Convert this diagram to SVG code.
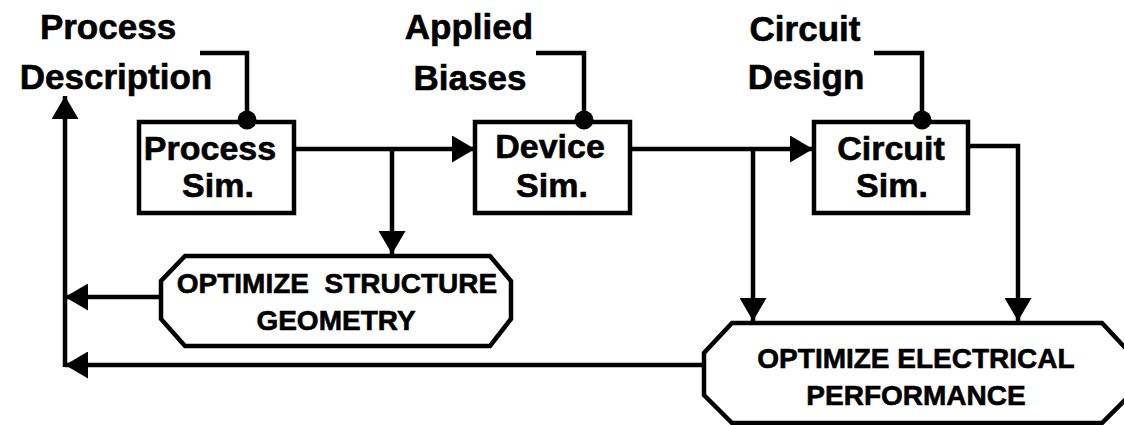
<svg xmlns="http://www.w3.org/2000/svg" width="1124" height="425" viewBox="0 0 1124 425">
  <defs>
    <marker id="arrow" markerUnits="userSpaceOnUse" markerWidth="24" markerHeight="27" refX="23" refY="13.5" orient="auto">
      <path d="M0,0 L23,13.5 L0,27 Z" fill="#000"/>
    </marker>
  </defs>
  <style>
    text { font-family: "Liberation Sans", Arial, sans-serif; font-weight: bold; fill: #000; stroke: #000; stroke-width: 0.6; text-anchor: middle; }
    .head { font-size: 35px; }
    .lbl { font-size: 34px; }
    .opt { font-size: 28px; }
    .box { fill: #fff; stroke: #000; stroke-width: 4.5; }
    .wire { fill: none; stroke: #000; stroke-width: 4.5; }
    .arr { fill: none; stroke: #000; stroke-width: 4.5; marker-end: url(#arrow); }
    .dot { fill: #000; }
  </style>
  <rect width="1124" height="425" fill="#fff"/>

  <!-- input labels -->
  <g id="process-description">
    <text class="head" x="108" y="39">Process</text>
    <text class="head" x="116" y="89">Description</text>
  </g>
  <g id="applied-biases">
    <text class="head" x="469" y="39">Applied</text>
    <text class="head" x="470" y="90">Biases</text>
  </g>
  <g id="circuit-design">
    <text class="head" x="805" y="41">Circuit</text>
    <text class="head" x="806" y="89">Design</text>
  </g>

  <!-- connectors -->
  <g id="connectors">
    <!-- input brackets -->
    <polyline class="wire" points="200,53 247,53 247,120"/>
    <polyline class="wire" points="536,53 584,53 584,120"/>
    <polyline class="wire" points="874,53 922,53 922,120"/>
    <!-- forward chain -->
    <line class="arr" x1="294" y1="149" x2="475" y2="149"/>
    <line class="arr" x1="392" y1="149" x2="392" y2="254"/>
    <line class="arr" x1="630" y1="149" x2="813" y2="149"/>
    <line class="arr" x1="753" y1="149" x2="753" y2="321"/>
    <polyline class="arr" points="968,146 1018,146 1018,321"/>
    <!-- feedback -->
    <line class="arr" x1="161" y1="297" x2="65" y2="297"/>
    <line class="arr" x1="704" y1="365" x2="65" y2="365"/>
    <line class="arr" x1="65" y1="367" x2="65" y2="96"/>
  </g>

  <!-- simulators -->
  <g id="process-sim">
    <rect class="box" x="139" y="122" width="155" height="91"/>
    <circle class="dot" cx="247" cy="120" r="9.5"/>
    <text class="lbl" x="210" y="160">Process</text>
    <text class="lbl" x="218" y="197">Sim.</text>
  </g>
  <g id="device-sim">
    <rect class="box" x="475" y="122" width="155" height="91"/>
    <circle class="dot" cx="584" cy="120" r="9.5"/>
    <text class="lbl" x="550" y="158">Device</text>
    <text class="lbl" x="552" y="197">Sim.</text>
  </g>
  <g id="circuit-sim">
    <rect class="box" x="814" y="122" width="154" height="91"/>
    <circle class="dot" cx="922" cy="120" r="9.5"/>
    <text class="lbl" x="891" y="160">Circuit</text>
    <text class="lbl" x="892" y="197">Sim.</text>
  </g>

  <!-- optimisation steps -->
  <g id="optimize-structure">
    <polygon class="box" points="185,256 490,256 511,281 511,319 490,346 185,346 161,319 161,281"/>
    <text class="opt" x="337" y="293" xml:space="preserve">OPTIMIZE  STRUCTURE</text>
    <text class="opt" x="336" y="330">GEOMETRY</text>
  </g>
  <g id="optimize-electrical">
    <polygon class="box" points="732,323 1102,323 1130,353 1130,395 1102,423 732,423 704,395 704,353"/>
    <text class="opt" x="916" y="368">OPTIMIZE ELECTRICAL</text>
    <text class="opt" x="916" y="405">PERFORMANCE</text>
  </g>
</svg>
